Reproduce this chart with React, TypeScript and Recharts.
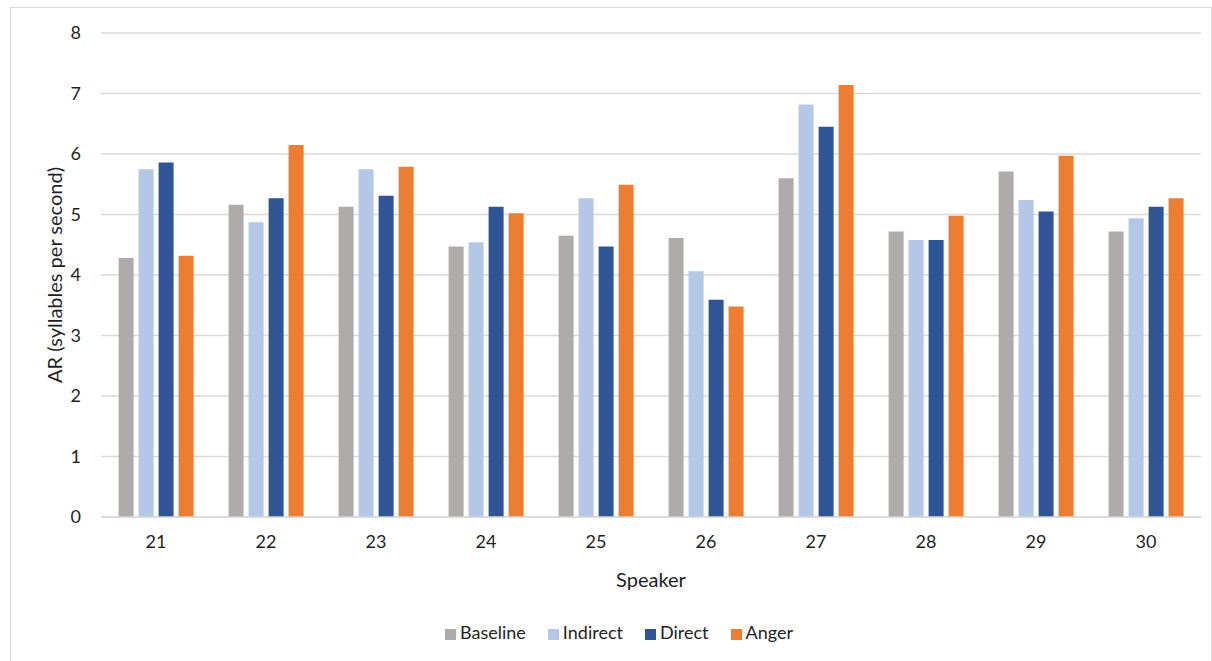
import { Bar, BarChart, CartesianGrid, Legend, XAxis, YAxis } from "recharts";

const speakers = ["21", "22", "23", "24", "25", "26", "27", "28", "29", "30"];
const seriesNames = ["Baseline", "Indirect", "Direct", "Anger"];
const baseline = [4.28, 5.16, 5.13, 4.47, 4.65, 4.61, 5.6, 4.72, 5.71, 4.72];
const indirect = [5.75, 4.87, 5.75, 4.54, 5.27, 4.06, 6.82, 4.58, 5.24, 4.94];
const direct = [5.86, 5.27, 5.31, 5.13, 4.47, 3.59, 6.45, 4.58, 5.05, 5.13];
const anger = [4.32, 6.15, 5.79, 5.02, 5.49, 3.48, 7.14, 4.98, 5.97, 5.27];
const yTicks = [0, 1, 2, 3, 4, 5, 6, 7, 8];

const font = "Lato, 'Open Sans', sans-serif";
const textColor = "#1f1f1f";
const gridColor = "#d9d9d9";

const data = speakers.map((s, i) => ({
  speaker: s,
  Baseline: baseline[i],
  Indirect: indirect[i],
  Direct: direct[i],
  Anger: anger[i],
}));

const YLabel = ({ viewBox }: any) => {
  const cx = viewBox.x + 43;
  const cy = viewBox.y + viewBox.height / 2;
  return (
    <text
      x={cx}
      y={cy}
      transform={`rotate(-90, ${cx}, ${cy})`}
      textAnchor="middle"
      dominantBaseline="central"
      fill={textColor}
      fontSize={20}
      fontFamily={font}
    >
      AR (syllables per second)
    </text>
  );
};

export default function App() {
  return (
    <div
      style={{
        position: "absolute",
        left: 10,
        top: 7,
        width: 1200,
        height: 656,
        border: `1px solid ${gridColor}`,
        background: "#fff",
        fontFamily: font,
      }}
    >
      <BarChart
        width={1200}
        height={654}
        data={data}
        margin={{ top: 25, right: 10, left: 0, bottom: 10 }}
        barCategoryGap="16%"
        barGap={5}
      >
        <CartesianGrid vertical={false} stroke={gridColor} strokeWidth={1.5} />
        <XAxis
          dataKey="speaker"
          height={104}
          tickLine={false}
          tickMargin={12}
          axisLine={{ stroke: gridColor, strokeWidth: 1.5 }}
          tick={{ fill: textColor, fontSize: 18, fontFamily: font }}
          label={{
            value: "Speaker",
            position: "insideBottom",
            offset: 34,
            fill: textColor,
            fontSize: 20,
            fontFamily: font,
          }}
        />
        <YAxis
          width={90}
          domain={[0, 8]}
          ticks={yTicks}
          interval={0}
          tickLine={false}
          axisLine={false}
          tickMargin={14}
          tick={{ fill: textColor, fontSize: 18, fontFamily: font }}
          label={<YLabel />}
        />
        <Legend
          verticalAlign="bottom"
          height={31}
          iconType="square"
          iconSize={11}
          itemSorter={(item: any) => seriesNames.indexOf(item.value)}
          wrapperStyle={{
            fontSize: 18,
            color: textColor,
            fontFamily: font,
            paddingLeft: 48,
            boxSizing: "border-box",
          }}
          formatter={(value: string) => (
            <span style={{ color: textColor, marginRight: 12 }}>{value}</span>
          )}
        />
        <Bar dataKey="Baseline" fill="#AFABAB" isAnimationActive={false} />
        <Bar dataKey="Indirect" fill="#B4C7E7" isAnimationActive={false} />
        <Bar dataKey="Direct" fill="#2F5597" isAnimationActive={false} />
        <Bar dataKey="Anger" fill="#ED7D31" isAnimationActive={false} />
      </BarChart>
    </div>
  );
}
